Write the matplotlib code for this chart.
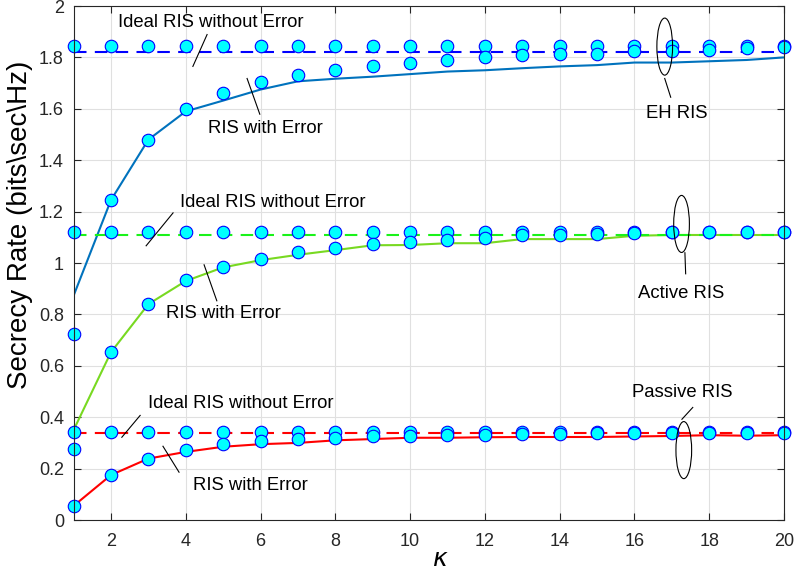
import numpy as np
import matplotlib
matplotlib.use("Agg")
import matplotlib.pyplot as plt
from matplotlib.patches import Ellipse

kappa = np.arange(1, 21)

# EH RIS
eh_ideal_line = [1.82] * 20
eh_ideal_sim = [1.846] * 20
eh_err_line = [0.873, 1.245, 1.48, 1.59, 1.632, 1.675, 1.707, 1.717, 1.725, 1.735,
               1.745, 1.75, 1.758, 1.765, 1.77, 1.78, 1.78, 1.785, 1.79, 1.80]
eh_err_sim = [0.725, 1.245, 1.48, 1.598, 1.66, 1.703, 1.73, 1.752, 1.768, 1.78,
              1.79, 1.80, 1.808, 1.814, 1.814, 1.823, 1.826, 1.83, 1.836, 1.839]

# Active RIS
act_ideal_line = [1.109] * 20
act_ideal_sim = [1.122] * 20
act_err_line = [0.35, 0.653, 0.84, 0.93, 0.983, 1.011, 1.032, 1.05, 1.069, 1.07,
                1.077, 1.077, 1.093, 1.093, 1.093, 1.106, 1.109, 1.109, 1.109, 1.109]
act_err_sim = [0.278, 0.653, 0.84, 0.934, 0.985, 1.017, 1.042, 1.06, 1.073, 1.082,
               1.09, 1.099, 1.108, 1.109, 1.112, 1.118, 1.12, 1.12, 1.12, 1.12]

# Passive RIS
pas_ideal_line = [0.338] * 20
pas_ideal_sim = [0.342] * 20
pas_err_line = [0.055, 0.175, 0.239, 0.265, 0.285, 0.295, 0.30, 0.31, 0.315, 0.32,
                0.32, 0.322, 0.323, 0.323, 0.323, 0.325, 0.327, 0.33, 0.328, 0.33]
pas_err_sim = [0.055, 0.175, 0.239, 0.274, 0.294, 0.306, 0.314, 0.321, 0.325, 0.328,
               0.33, 0.332, 0.334, 0.336, 0.337, 0.338, 0.34, 0.34, 0.34, 0.34]

ytick_labels = ['0', '0.2', '0.4', '0.6', '0.8', '1', '1.2', '1.4', '1.6', '1.8', '2']

plt.rcParams['font.family'] = ['Liberation Sans', 'DejaVu Sans']

fig = plt.figure(figsize=(7.94, 5.72), dpi=100)
ax = fig.add_axes([0.0927, 0.0909, 0.8947, 0.8986])

blue = (0, 0.447, 0.741)
green = (0.47, 0.85, 0.13)

ax.plot(kappa, eh_err_line, color=blue, lw=1.5)
ax.plot(kappa, eh_ideal_line, color=(0, 0, 1), lw=1.5, ls=(0, (6, 4)))
ax.plot(kappa, act_err_line, color=green, lw=1.5)
ax.plot(kappa, act_ideal_line, color=(0.1, 0.95, 0.1), lw=1.5, ls=(0, (6, 4)))
ax.plot(kappa, pas_err_line, color=(1, 0, 0), lw=1.5)
ax.plot(kappa, pas_ideal_line, color=(1, 0, 0), lw=1.5, ls=(0, (6, 4)))

mk = dict(ls='none', marker='o', ms=9, mfc='cyan', mec='blue', mew=0.8, clip_on=False)
for sim in [eh_ideal_sim, eh_err_sim, act_ideal_sim, act_err_sim, pas_ideal_sim, pas_err_sim]:
    ax.plot(kappa, sim, **mk)

# ellipses around curves
for cx, cy in [(16.81, 1.842), (17.26, 1.152), (17.32, 0.272)]:
    ax.add_patch(Ellipse((cx, cy), 0.42, 0.222, fill=False, ec='black', lw=0.8, zorder=5))

fs = 13.3
kw = dict(color='black', lw=0.8)
# EH RIS
ax.text(4.67, 1.936, 'Ideal RIS without Error', ha='center', va='center', fontsize=fs)
ax.plot([4.19, 4.57], [1.765, 1.889], **kw)
ax.text(6.12, 1.524, 'RIS with Error', ha='center', va='center', fontsize=fs)
ax.plot([5.64, 5.98], [1.718, 1.579], **kw)
ax.plot([16.81, 16.97], [1.718, 1.645], **kw)
ax.text(17.13, 1.583, 'EH RIS', ha='center', va='center', fontsize=fs)
# Active RIS
ax.text(3.85, 1.237, 'Ideal RIS without Error', ha='left', va='center', fontsize=fs)
ax.plot([2.94, 3.66], [1.067, 1.195], **kw)
ax.text(3.47, 0.803, 'RIS with Error', ha='left', va='center', fontsize=fs)
ax.plot([4.49, 4.83], [0.993, 0.853], **kw)
ax.plot([17.35, 17.37], [1.04, 0.958], **kw)
ax.text(17.24, 0.881, 'Active RIS', ha='center', va='center', fontsize=fs)
# Passive RIS
ax.text(2.99, 0.454, 'Ideal RIS without Error', ha='left', va='center', fontsize=fs)
ax.plot([2.29, 2.78], [0.322, 0.407], **kw)
ax.text(4.19, 0.136, 'RIS with Error', ha='left', va='center', fontsize=fs)
ax.plot([3.39, 3.82], [0.287, 0.186], **kw)
ax.text(17.29, 0.497, 'Passive RIS', ha='center', va='center', fontsize=fs)
ax.plot([17.27, 17.56], [0.392, 0.438], **kw)

ax.set_xlim(1, 20)
ax.set_ylim(0, 2)
ax.set_xticks(range(2, 21, 2))
ax.set_yticks(np.arange(0, 2.01, 0.2))
ax.set_yticklabels(ytick_labels)
ax.grid(True, color=(0.88, 0.88, 0.88), lw=0.8)
ax.set_axisbelow(True)
ax.tick_params(direction='in', top=True, right=True, labelsize=13,
               colors=(0.15, 0.15, 0.15), length=5)
ax.tick_params(axis='x', pad=9)
ax.tick_params(axis='y', pad=7)
for s in ax.spines.values():
    s.set_color((0.15, 0.15, 0.15))
ax.set_xlabel(r'$\kappa$', fontsize=18)
ax.xaxis.set_label_coords(0.516, -0.052)
ax.set_ylabel('Secrecy Rate (bits\\sec\\Hz)', fontsize=20)
ax.yaxis.set_label_coords(-0.057, 0.574)

fig.savefig('out.png', dpi=100)
